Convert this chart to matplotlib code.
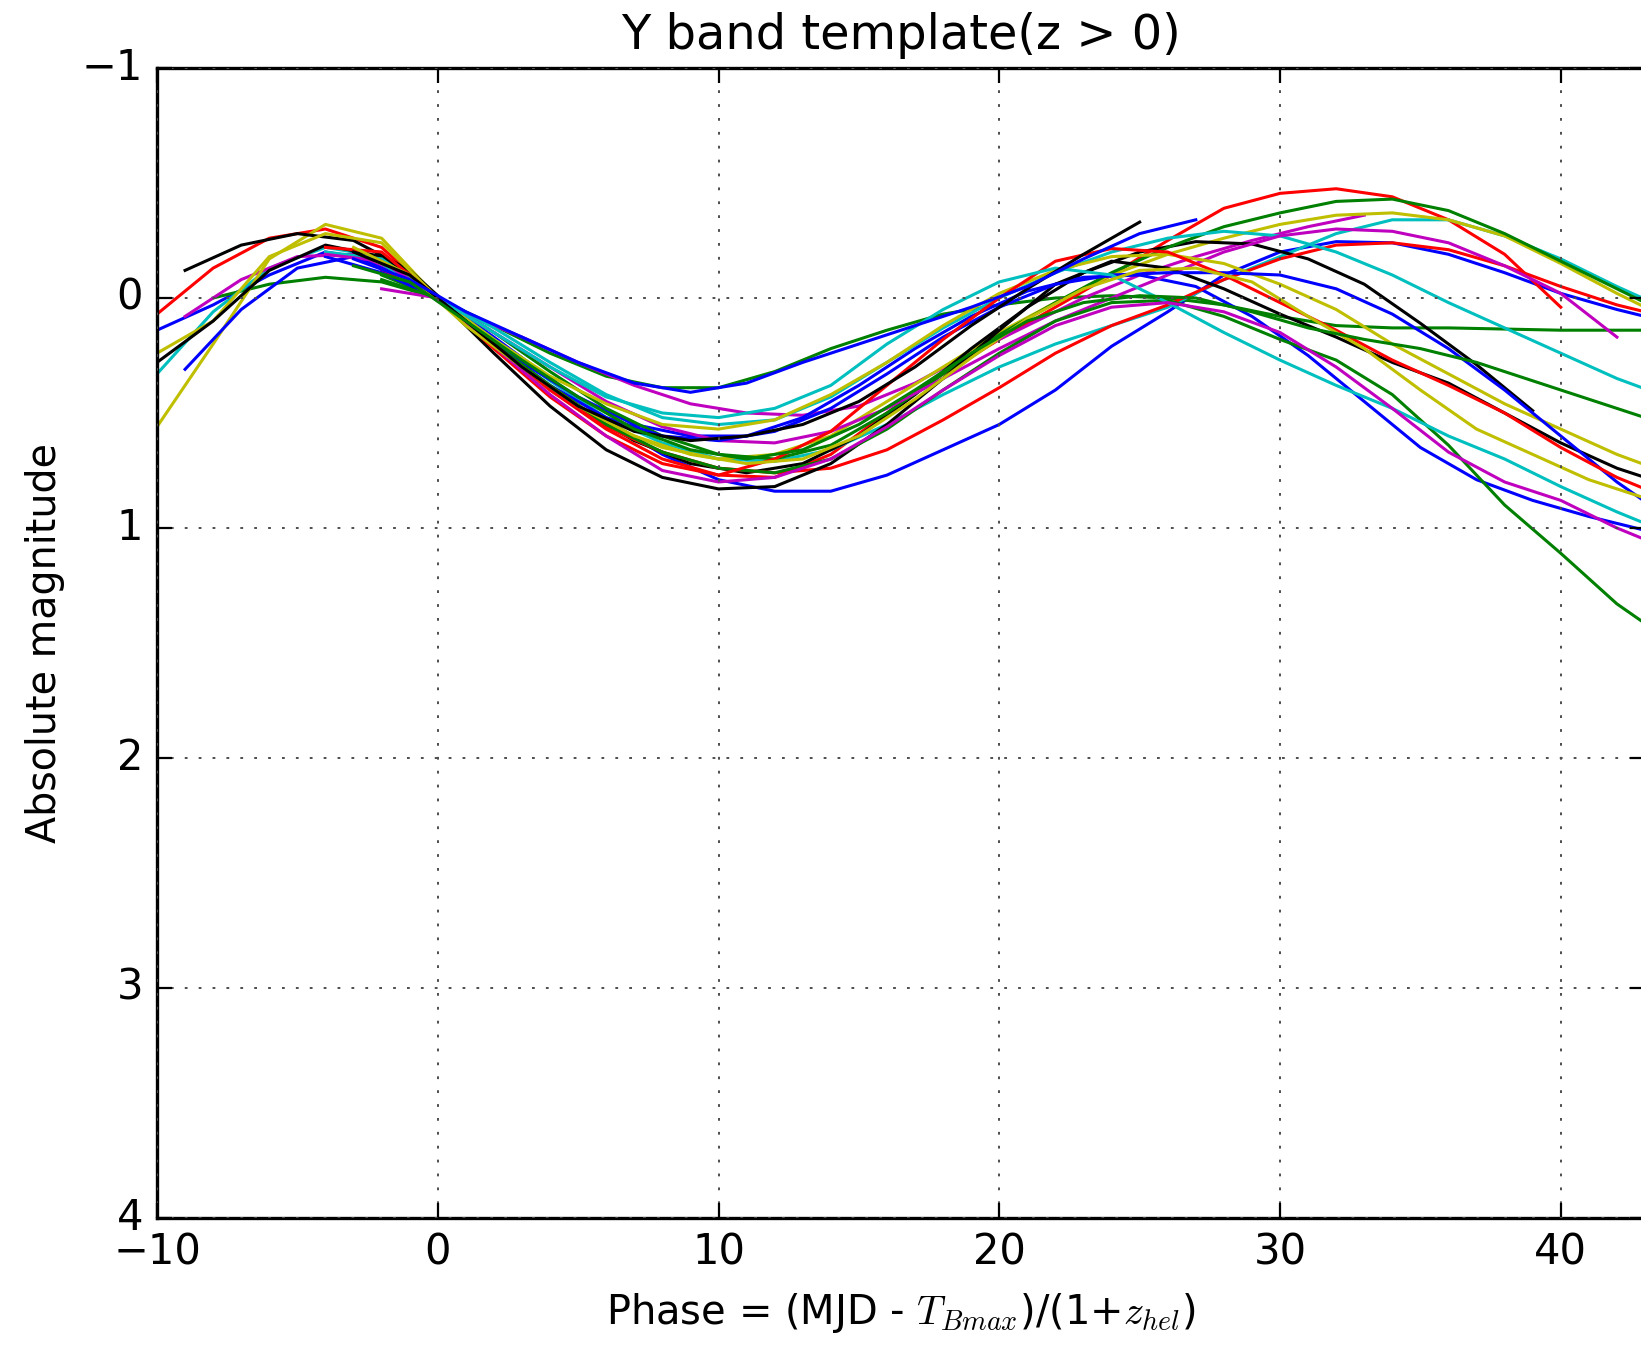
import numpy as np
import matplotlib
matplotlib.use("Agg")
import matplotlib.pyplot as plt

# Y band light curves, magnitudes relative to the value at phase 0,
# read every 2 days starting at the phase given in phase_start
red_high = [0.07, -0.13, -0.26, -0.30, -0.22, 0.0, 0.20, 0.40, 0.57, 0.70, 0.77, 0.78, 0.68, 0.50, 0.33, 0.18, 0.04,
            -0.10, -0.25, -0.39, -0.455, -0.475, -0.44, -0.34, -0.19, 0.04]
green_high = [-0.10, 0.0, 0.15, 0.32, 0.48, 0.60, 0.68, 0.70, 0.64, 0.50, 0.33, 0.16, 0.02, -0.11, -0.22, -0.31,
              -0.37, -0.42, -0.43, -0.38, -0.28, -0.16, -0.04, 0.08]
yellow_high = [0.56, 0.20, -0.17, -0.32, -0.26, 0.0, 0.22, 0.40, 0.55, 0.65, 0.70, 0.68, 0.60, 0.45, 0.30, 0.15, 0.02,
               -0.10, -0.19, -0.26, -0.32, -0.36, -0.37, -0.34, -0.27, -0.15, -0.02, 0.10]
cyan_high = [0.33, 0.06, -0.13, -0.22, -0.18, 0.0, 0.18, 0.36, 0.52, 0.63, 0.70, 0.71, 0.66, 0.55, 0.42, 0.30, 0.20,
             0.12, 0.04, -0.08, -0.18, -0.28, -0.34, -0.34, -0.27, -0.17, -0.05, 0.06]
magenta_short = [0.08, -0.08, -0.18, -0.19, -0.08, 0.07, 0.17, 0.28, 0.38, 0.46, 0.50, 0.51, 0.47, 0.37, 0.24, 0.12,
                 0.00, -0.10, -0.18, -0.25, -0.31, -0.36]
magenta_2 = [-0.04, 0.0, 0.15, 0.30, 0.45, 0.56, 0.62, 0.63, 0.58, 0.48, 0.35, 0.22, 0.10, 0.0, -0.10, -0.20, -0.27,
             -0.30, -0.29, -0.24, -0.14, -0.02, 0.17]
blue_high_late = [0.14, 0.03, -0.10, -0.20, -0.16, 0.0, 0.17, 0.35, 0.53, 0.68, 0.79, 0.84, 0.84, 0.77, 0.66, 0.55,
                  0.40, 0.21, 0.06, -0.10, -0.20, -0.245, -0.24, -0.19, -0.11, -0.02, 0.05, 0.11]
red_2 = [-0.12, 0.0, 0.20, 0.40, 0.56, 0.67, 0.74, 0.76, 0.74, 0.66, 0.53, 0.39, 0.24, 0.12, 0.03, -0.08, -0.17,
         -0.23, -0.24, -0.21, -0.14, -0.05, 0.03, 0.09]
blue_early_top = [-0.17, -0.08, 0.06, 0.17, 0.28, 0.37, 0.41, 0.37, 0.28, 0.20, 0.12, 0.04, -0.05, -0.17, -0.28, -0.34]
black_steep = [-0.20, -0.10, 0.10, 0.30, 0.47, 0.58, 0.62, 0.60, 0.55, 0.45, 0.30, 0.12, -0.04, -0.19, -0.33]
cyan_mid = [-0.15, 0.0, 0.13, 0.28, 0.42, 0.52, 0.55, 0.53, 0.43, 0.28, 0.13, 0.0, -0.11, -0.20, -0.26, -0.29, -0.27,
            -0.20, -0.10, 0.02, 0.13, 0.24, 0.35, 0.44]
cyan_steep = [-0.20, -0.17, 0.0, 0.15, 0.30, 0.43, 0.50, 0.52, 0.48, 0.38, 0.20, 0.05, -0.07, -0.13, -0.10, 0.02,
              0.15, 0.27, 0.38, 0.48, 0.60, 0.70, 0.82, 0.93, 1.03]
black_mid = [-0.12, -0.23, -0.28, -0.25, -0.12, 0.10, 0.30, 0.48, 0.62, 0.72, 0.76, 0.72, 0.60, 0.42, 0.22, 0.04,
             -0.11, -0.20, -0.245, -0.235, -0.17, -0.06, 0.11, 0.29, 0.49]
black_lower = [0.28, 0.10, -0.12, -0.23, -0.18, 0.0, 0.24, 0.47, 0.66, 0.78, 0.83, 0.82, 0.72, 0.55, 0.35, 0.14, -0.06,
               -0.16, -0.13, -0.04, 0.07, 0.17, 0.28, 0.37, 0.50, 0.63, 0.74, 0.82]
red_mid = [-0.22, -0.20, 0.0, 0.22, 0.43, 0.60, 0.72, 0.77, 0.70, 0.58, 0.38, 0.18, 0.0, -0.16, -0.215, -0.20, -0.10,
           0.02, 0.14, 0.27, 0.38, 0.50, 0.65, 0.78, 0.88]
yellow_mid = [0.24, 0.10, -0.18, -0.28, -0.24, 0.0, 0.18, 0.34, 0.46, 0.55, 0.57, 0.53, 0.42, 0.28, 0.12, -0.02, -0.12,
              -0.18, -0.19, -0.15, -0.06, 0.05, 0.20, 0.33, 0.46, 0.57, 0.68, 0.77]
yellow_low = [-0.22, -0.10, 0.12, 0.30, 0.47, 0.60, 0.68, 0.72, 0.70, 0.60, 0.44, 0.26, 0.09, -0.04, -0.12, -0.13,
              -0.07, 0.08, 0.22, 0.40, 0.57, 0.68, 0.79, 0.87]
blue_mid = [-0.18, -0.11, 0.0, 0.20, 0.38, 0.52, 0.60, 0.62, 0.58, 0.48, 0.33, 0.17, 0.04, -0.06, -0.10, -0.11, -0.11,
            -0.10, -0.04, 0.07, 0.22, 0.40, 0.60, 0.80, 0.97]
blue_steep = [0.31, 0.05, -0.13, -0.18, -0.08, 0.10, 0.28, 0.43, 0.55, 0.60, 0.60, 0.52, 0.38, 0.22, 0.08, -0.03,
              -0.09, -0.10, -0.05, 0.08, 0.25, 0.45, 0.65, 0.79, 0.88, 0.95, 1.01]
magenta_low = [-0.19, -0.16, 0.0, 0.21, 0.42, 0.60, 0.75, 0.80, 0.78, 0.70, 0.56, 0.40, 0.25, 0.12, 0.04, 0.02, 0.06,
               0.15, 0.30, 0.48, 0.67, 0.80, 0.88, 1.00, 1.10]
green_steep = [-0.08, 0.0, 0.20, 0.38, 0.55, 0.67, 0.74, 0.76, 0.70, 0.57, 0.40, 0.24, 0.10, 0.02, 0.01, 0.08, 0.18,
               0.27, 0.42, 0.64, 0.90, 1.11, 1.33, 1.50]
green_flat = [0.0, -0.06, -0.09, -0.07, 0.0, 0.12, 0.24, 0.34, 0.39, 0.39, 0.32, 0.22, 0.14, 0.07, 0.03, 0.0, -0.01,
              0.0, 0.03, 0.08, 0.12, 0.13, 0.13, 0.135, 0.14, 0.14, 0.14]
green_mid = [-0.14, -0.07, 0.10, 0.27, 0.43, 0.57, 0.66, 0.70, 0.66, 0.55, 0.40, 0.24, 0.10, 0.02, -0.01, 0.0, 0.06,
             0.13, 0.18, 0.22, 0.28, 0.36, 0.44, 0.52]

mag_curves = [blue_high_late, green_flat, red_high, cyan_high, magenta_short, yellow_high, black_mid,
              blue_steep, green_high, red_2, cyan_mid, magenta_2, yellow_mid, black_lower,
              blue_mid, green_steep, red_mid, cyan_steep, magenta_low, yellow_low, black_steep,
              blue_early_top, green_mid]
phase_start = [-10, -8, -10, -10, -9, -10, -9,
               -9, -2, -2, -2, -2, -10, -10,
               -4, -2, -4, -4, -4, -3, -3,
               -3, -3]
line_colors = ['b', 'g', 'r', 'c', 'm', 'y', 'k',
               'b', 'g', 'r', 'c', 'm', 'y', 'k',
               'b', 'g', 'r', 'c', 'm', 'y', 'k',
               'b', 'g']

x_ticks = [-10, 0, 10, 20, 30, 40]
y_ticks = [-1, 0, 1, 2, 3, 4]

plt.style.use("classic")
plt.rcParams['lines.scale_dashes'] = False

fig = plt.figure(figsize=(16.41, 13.47), dpi=100, facecolor="white")
ax = fig.add_axes([157 / 1641, 1 - 1218 / 1347, 1488 / 1641, 1150 / 1347])

for start, mags, col in zip(phase_start, mag_curves, line_colors):
    phase = start + 2 * np.arange(len(mags))
    ax.plot(phase, mags, color=col, lw=2.2)

ax.set_xlim(-10, 43)
ax.set_ylim(4, -1)
ax.set_xticks(x_ticks)
ax.set_yticks(y_ticks)
ax.grid(True, color='0.3', linestyle=(0, (2, 8)), lw=1.4)
for s in ax.spines.values():
    s.set_linewidth(2.4)
ax.tick_params(which='major', direction='in', length=11, width=1.6, labelsize=30, pad=10,
               top=True, right=True)

ax.set_title("Y band template(z > 0)", fontsize=34.5, pad=14)
ax.set_xlabel(r"Phase = (MJD - $T_{Bmax}$)/(1+$z_{hel}$)", fontsize=28.8, labelpad=12)
ax.set_ylabel("Absolute magnitude", fontsize=28.5, labelpad=12)

fig.savefig("out.png", dpi=100, facecolor="white")
